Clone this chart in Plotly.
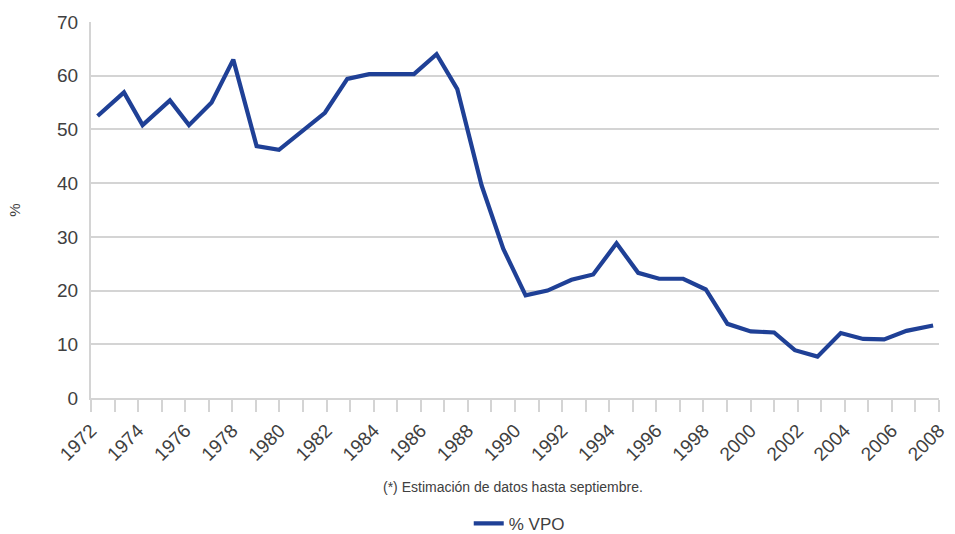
import plotly.graph_objects as go

# Share of subsidised housing (VPO) in total housing, yearly series
years = [1972.28, 1973.40, 1974.19, 1975.35, 1976.16, 1977.12, 1978.04, 1979.03,
         1979.98, 1980.96, 1981.93, 1982.88, 1983.81, 1984.78, 1985.71, 1986.67,
         1987.55, 1988.58, 1989.50, 1990.45, 1991.38, 1992.40, 1993.32, 1994.31,
         1995.23, 1996.12, 1997.14, 1998.10, 1999.02, 2000.01, 2001.00, 2001.88,
         2002.84, 2003.83, 2004.78, 2005.67, 2006.62, 2007.75]
vpo_pct = [52.5, 56.9, 50.8, 55.4, 50.8, 55.0, 63.0, 46.9,
           46.2, 49.6, 53.1, 59.4, 60.3, 60.3, 60.3, 64.0,
           57.5, 39.6, 27.8, 19.1, 20.0, 22.0, 23.0, 28.8,
           23.3, 22.2, 22.2, 20.2, 13.8, 12.4, 12.2, 8.9,
           7.7, 12.1, 11.0, 10.9, 12.5, 13.5]

x_ticks = list(range(1972, 2009))
x_labels = [str(y) if (y - 1972) % 2 == 0 else "" for y in x_ticks]
y_ticks = [0, 10, 20, 30, 40, 50, 60, 70]

line_color = "#1F4096"
grid_color = "#D4D4D4"
text_color = "#404040"
font_family = "Liberation Sans, Arial, sans-serif"

fig = go.Figure()
fig.add_trace(go.Scatter(
    x=years, y=vpo_pct, mode="lines", name="% VPO",
    line=dict(color=line_color, width=4.2),
))

fig.update_layout(
    width=955, height=534,
    margin=dict(l=91, r=16, t=22, b=136, autoexpand=False),
    plot_bgcolor="white", paper_bgcolor="white",
    font=dict(family=font_family, color=text_color),
    showlegend=True,
    legend=dict(
        orientation="h", x=0.505, xanchor="center",
        yref="container", y=0.019, yanchor="middle",
        font=dict(size=17, color=text_color), itemwidth=30,
    ),
    annotations=[dict(
        text="(*) Estimación de datos hasta septiembre.",
        x=0.498, xref="paper", y=-0.236, yref="paper",
        xanchor="center", yanchor="middle", showarrow=False,
        font=dict(size=14, color=text_color),
    )],
)

fig.update_xaxes(
    range=[1972, 2008], tickmode="array", tickvals=x_ticks, ticktext=x_labels,
    tickangle=-45, tickfont=dict(size=19, color=text_color),
    ticks="outside", ticklen=12, tickwidth=2, tickcolor=grid_color,
    showline=True, linecolor=grid_color, linewidth=2,
    showgrid=False, zeroline=False, automargin=False,
)
fig.update_yaxes(
    range=[0, 70], tickmode="array", tickvals=y_ticks,
    tickfont=dict(size=19, color=text_color),
    ticks="", ticklabelstandoff=7,
    showline=True, linecolor=grid_color, linewidth=2,
    showgrid=True, gridcolor=grid_color, gridwidth=2, zeroline=False,
    automargin=False,
    title=dict(text="%", font=dict(size=15, color=text_color), standoff=33),
)

fig.write_html("out.html")
